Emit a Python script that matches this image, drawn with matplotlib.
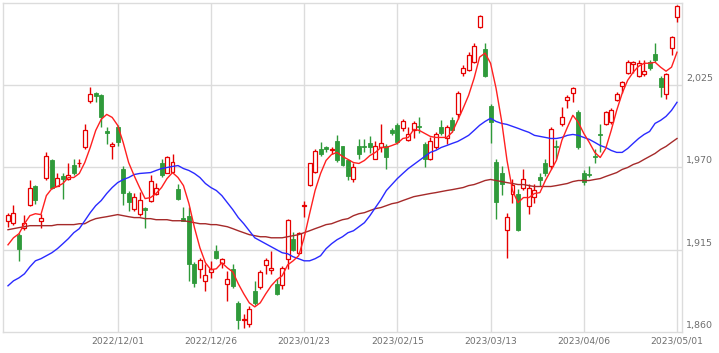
import numpy as np
import matplotlib
matplotlib.use("Agg")
import matplotlib.pyplot as plt

# Daily candles (oldest -> newest)
opens = [1934.4, 1933.1, 1925.1, 1929.8, 1945.2, 1957.3, 1934.4, 1963.3, 1974.7, 1957.9,
         1964.6, 1962.6, 1972.0, 1972.7, 1983.4, 2014.3, 2019.6, 2018.3, 1994.1, 1984.7,
         1996.8, 1969.3, 1953.2, 1942.5, 1939.1, 1943.2, 1947.9, 1952.6, 1973.3, 1966.6,
         1967.3, 1955.9, 1936.5, 1937.8, 1905.6, 1902.3, 1894.2, 1900.2, 1914.3, 1906.3,
         1892.2, 1902.3, 1879.5, 1868.0, 1865.4, 1887.5, 1890.2, 1904.9, 1901.6, 1892.2,
         1891.5, 1908.9, 1922.4, 1913.0, 1944.5, 1958.6, 1967.3, 1982.7, 1983.4, 1981.7,
         1987.4, 1984.1, 1974.7, 1962.6, 1984.1, 1984.7, 1986.1, 1976.0, 1983.4, 1984.1,
         1994.8, 1998.2, 1996.2, 1988.1, 1994.8, 1997.5, 1985.4, 1976.0, 1983.4, 1996.8,
         1989.4, 2001.5, 2005.5, 2033.0, 2035.0, 2040.4, 2063.9, 2049.1, 2010.9, 1974.0,
         1966.6, 1928.4, 1952.6, 1952.6, 1956.6, 1944.5, 1950.5, 1963.9, 1972.7, 1971.3,
         1984.7, 1998.8, 2014.9, 2019.6, 2006.9, 1966.6, 1965.6, 1977.4, 1992.5, 1998.8,
         2000.2, 2014.9, 2024.3, 2033.0, 2039.1, 2031.0, 2032.4, 2040.4, 2045.8, 2029.7,
         2019.0, 2049.8, 2070.6]
highs = [1939.8, 1945.2, 1926.4, 1938.5, 1961.9, 1958.6, 1939.1, 1980.1, 1976.0, 1966.0,
         1966.0, 1972.7, 1975.4, 1975.4, 1998.8, 2023.7, 2020.3, 2019.0, 1996.8, 1986.8,
         1998.2, 1970.7, 1954.6, 1953.2, 1953.9, 1943.8, 1965.3, 1959.9, 1976.0, 1978.0,
         1978.7, 1959.3, 1943.8, 1943.8, 1906.9, 1909.6, 1905.6, 1907.6, 1918.3, 1909.6,
         1900.9, 1905.6, 1880.8, 1872.1, 1877.4, 1894.2, 1901.6, 1909.6, 1914.3, 1895.5,
         1904.3, 1935.8, 1927.1, 1927.1, 1947.9, 1973.3, 1982.7, 1986.8, 1984.7, 1983.4,
         1991.5, 1984.7, 1976.0, 1973.3, 1988.8, 1988.8, 1990.8, 1987.4, 1998.8, 1985.4,
         1996.2, 1999.5, 2002.2, 1996.8, 2000.8, 2003.5, 1986.8, 1990.1, 1993.5, 2001.5,
         1998.2, 2003.5, 2021.0, 2038.4, 2047.1, 2053.2, 2071.9, 2053.2, 2012.2, 1975.4,
         1971.3, 1939.8, 1962.6, 1955.9, 1968.7, 1959.3, 1959.3, 1966.0, 1975.4, 1996.8,
         1988.1, 2010.2, 2018.3, 2023.7, 2008.2, 1968.0, 1970.7, 1982.1, 1998.8, 2007.6,
         2009.6, 2020.3, 2027.7, 2041.8, 2041.1, 2041.8, 2041.8, 2041.8, 2053.2, 2031.0,
         2033.0, 2057.9, 2078.6]
lows = [1930.4, 1931.8, 1907.6, 1928.4, 1944.5, 1945.8, 1929.8, 1961.9, 1955.9, 1957.3,
        1949.2, 1961.9, 1965.3, 1970.0, 1982.7, 2012.9, 2013.6, 1996.8, 1985.4, 1976.0,
        1984.1, 1945.2, 1941.2, 1941.2, 1937.8, 1929.8, 1947.2, 1951.9, 1963.9, 1966.0,
        1966.6, 1948.5, 1934.0, 1894.2, 1890.2, 1896.2, 1887.5, 1896.2, 1908.9, 1902.9,
        1880.8, 1889.5, 1862.0, 1862.7, 1863.4, 1878.1, 1888.8, 1898.9, 1898.9, 1884.8,
        1888.8, 1902.3, 1914.3, 1912.3, 1937.1, 1957.3, 1966.6, 1977.4, 1980.1, 1978.7,
        1974.0, 1970.7, 1961.9, 1960.6, 1976.0, 1980.1, 1979.4, 1975.4, 1980.1, 1968.7,
        1991.5, 1985.4, 1994.1, 1987.4, 1989.4, 1992.8, 1970.0, 1974.7, 1982.1, 1991.5,
        1985.4, 1993.5, 2002.2, 2031.0, 2034.4, 2039.7, 2063.2, 2030.4, 1986.1, 1935.8,
        1951.9, 1909.6, 1946.5, 1927.7, 1955.2, 1939.1, 1946.5, 1957.9, 1964.6, 1969.3,
        1975.4, 1997.5, 2009.6, 2013.6, 1982.1, 1958.6, 1963.9, 1973.3, 1980.1, 1998.2,
        1998.8, 2014.3, 2019.6, 2032.4, 2033.0, 2030.4, 2031.0, 2035.0, 2040.4, 2016.9,
        2015.6, 2045.1, 2067.2]
closes = [1938.5, 1939.8, 1915.7, 1933.1, 1956.6, 1948.5, 1936.5, 1977.4, 1956.6, 1963.3,
          1962.6, 1965.3, 1966.6, 1973.3, 1994.8, 2019.0, 2017.6, 2003.5, 1992.8, 1985.4,
          1987.1, 1953.2, 1947.2, 1950.5, 1948.5, 1941.8, 1961.3, 1956.6, 1965.3, 1976.7,
          1974.0, 1949.2, 1934.4, 1905.6, 1892.9, 1908.3, 1898.2, 1902.3, 1909.6, 1908.9,
          1895.5, 1890.9, 1868.0, 1868.7, 1875.4, 1879.5, 1900.2, 1908.3, 1902.9, 1885.5,
          1902.9, 1935.1, 1915.0, 1926.4, 1945.2, 1972.7, 1980.7, 1978.7, 1982.7, 1982.4,
          1974.7, 1972.0, 1964.6, 1970.0, 1978.7, 1983.4, 1983.4, 1984.1, 1986.1, 1976.7,
          1992.8, 1986.8, 2000.8, 1992.1, 1999.5, 1996.8, 1976.0, 1987.4, 1992.1, 1992.8,
          1996.8, 1994.8, 2019.6, 2036.4, 2045.1, 2051.1, 2071.3, 2031.0, 2000.2, 1947.2,
          1959.3, 1937.1, 1958.6, 1928.4, 1962.6, 1956.6, 1955.2, 1961.9, 1966.0, 1995.5,
          1983.4, 2003.5, 2016.9, 2023.0, 1983.4, 1960.6, 1964.9, 1976.7, 1991.8, 2006.9,
          2008.2, 2019.0, 2027.0, 2040.4, 2040.4, 2039.7, 2034.4, 2036.4, 2041.8, 2023.7,
          2032.4, 2057.2, 2078.0]

# Moving averages as drawn (short / medium / long)
ma_short = [1918.3, 1923.0, 1925.7, 1932.4, 1937.8, 1939.1, 1938.5, 1951.2, 1955.9, 1957.3,
            1959.3, 1963.3, 1963.3, 1966.0, 1973.3, 1983.4, 1994.8, 2002.2, 2005.5, 2003.5,
            1998.2, 1986.8, 1973.3, 1964.6, 1956.6, 1949.2, 1949.9, 1952.6, 1956.6, 1962.6,
            1966.6, 1963.3, 1957.9, 1945.8, 1929.8, 1916.3, 1906.3, 1901.6, 1902.3, 1906.3,
            1902.9, 1900.2, 1892.2, 1885.5, 1879.5, 1876.8, 1879.5, 1885.5, 1890.9, 1894.9,
            1897.6, 1904.9, 1907.6, 1911.0, 1923.0, 1939.1, 1954.6, 1966.0, 1974.7, 1978.7,
            1980.1, 1977.4, 1975.4, 1973.3, 1972.7, 1974.7, 1978.0, 1980.1, 1983.4, 1983.4,
            1984.7, 1986.1, 1989.4, 1990.1, 1995.5, 1994.8, 1992.8, 1990.8, 1990.1, 1990.1,
            1990.1, 1993.5, 2001.5, 2009.6, 2018.3, 2029.7, 2043.8, 2046.5, 2039.7, 2023.0,
            2001.5, 1974.7, 1954.6, 1946.5, 1949.9, 1949.9, 1952.6, 1953.2, 1961.3, 1968.0,
            1974.7, 1988.1, 1996.8, 2004.9, 2000.2, 1992.8, 1986.8, 1980.1, 1976.7, 1982.7,
            1994.8, 2008.2, 2019.6, 2028.3, 2033.7, 2037.7, 2039.7, 2039.7, 2040.4, 2037.1,
            2034.4, 2037.1, 2047.1]
ma_mid = [1890.9, 1894.2, 1896.2, 1898.9, 1903.6, 1907.6, 1909.0, 1911.0, 1913.0, 1915.7,
          1919.0, 1922.4, 1926.4, 1929.1, 1934.4, 1939.8, 1944.5, 1947.9, 1952.6, 1956.6,
          1959.9, 1961.9, 1963.3, 1965.3, 1966.0, 1966.3, 1966.6, 1968.0, 1969.3, 1970.0,
          1970.7, 1971.3, 1969.3, 1968.0, 1966.0, 1963.3, 1959.3, 1956.6, 1954.6, 1951.2,
          1946.5, 1941.8, 1936.5, 1932.4, 1927.7, 1923.0, 1921.0, 1919.0, 1917.0, 1915.0,
          1913.0, 1912.3, 1910.3, 1909.0, 1907.6, 1907.6, 1909.0, 1911.0, 1915.7, 1919.0,
          1921.7, 1923.7, 1926.4, 1927.7, 1930.4, 1933.1, 1937.8, 1943.2, 1948.5, 1954.6,
          1958.6, 1962.6, 1966.0, 1969.3, 1972.0, 1974.7, 1977.4, 1980.1, 1981.4, 1983.4,
          1984.7, 1986.1, 1987.4, 1989.4, 1991.5, 1994.8, 1998.2, 2000.8, 2002.9, 2000.8,
          1999.5, 1998.8, 1997.5, 1996.2, 1994.8, 1993.5, 1991.5, 1990.8, 1990.1, 1989.4,
          1989.4, 1990.1, 1991.5, 1992.1, 1991.5, 1990.1, 1988.8, 1986.8, 1984.7, 1983.4,
          1981.4, 1980.1, 1980.1, 1982.7, 1986.1, 1989.4, 1992.1, 1994.1, 1999.5, 2001.5,
          2004.2, 2008.2, 2013.6]
ma_long = [1928.4, 1929.1, 1929.8, 1930.4, 1931.1, 1931.1, 1931.1, 1931.1, 1931.1, 1931.8,
           1931.8, 1931.8, 1931.8, 1932.4, 1932.4, 1934.4, 1935.8, 1936.5, 1937.1, 1937.8,
           1938.5, 1937.8, 1937.1, 1936.5, 1936.5, 1935.8, 1935.8, 1935.1, 1935.1, 1935.1,
           1934.4, 1934.4, 1934.4, 1933.8, 1933.1, 1932.4, 1932.4, 1931.8, 1931.8, 1931.1,
           1930.4, 1929.1, 1927.7, 1926.4, 1925.1, 1924.4, 1923.7, 1923.7, 1923.0, 1923.0,
           1923.0, 1923.7, 1924.4, 1925.1, 1926.4, 1927.7, 1929.1, 1930.4, 1931.8, 1932.4,
           1933.8, 1935.1, 1935.8, 1937.8, 1939.1, 1939.8, 1941.2, 1942.5, 1943.2, 1944.5,
           1945.8, 1946.5, 1947.9, 1949.2, 1950.5, 1951.2, 1951.9, 1952.6, 1953.2, 1953.9,
           1954.6, 1955.2, 1955.9, 1956.6, 1957.9, 1958.6, 1959.9, 1961.3, 1962.0, 1961.3,
           1960.6, 1959.9, 1959.3, 1958.6, 1958.6, 1957.9, 1957.3, 1957.3, 1957.3, 1957.3,
           1957.9, 1958.6, 1959.3, 1960.6, 1961.3, 1961.3, 1961.3, 1962.0, 1962.6, 1964.0,
           1965.3, 1966.6, 1968.7, 1970.0, 1972.0, 1973.3, 1975.4, 1977.4, 1979.4, 1982.1,
           1984.1, 1986.8, 1989.4]

date_labels = ['2022/12/01', '2022/12/26', '2023/01/23', '2023/02/15',
               '2023/03/13', '2023/04/06', '2023/05/01']
date_index = [20, 37, 54, 71, 88, 105, 122]
price_ticks = [1860, 1915, 1970, 2025]

UP = '#e60000'
DOWN = '#2f9a3a'
GRID = '#dcdcdc'
TXT = '#6e6e6e'

o = np.array(opens)
h = np.array(highs)
l = np.array(lows)
c = np.array(closes)
x = np.arange(len(o))
up = c >= o

fig = plt.figure(figsize=(7.19, 3.53), dpi=100)
ax = fig.add_axes([3 / 719, 21 / 353, 679 / 719, 329 / 353])

ax.set_xlim(-0.91, len(o) - 1 + 0.91)
ax.set_ylim(1860, 2080)

# grid
for t in price_ticks[1:]:
    ax.axhline(t, color=GRID, lw=1, zorder=0)
for t in date_index:
    ax.axvline(t, color=GRID, lw=1, zorder=0)

# wicks
ax.vlines(x[up], l[up], h[up], color=UP, lw=1, zorder=2)
ax.vlines(x[~up], l[~up], h[~up], color=DOWN, lw=1, zorder=2)

# bodies
body = np.maximum(np.abs(c - o), 0.4)
bottom = np.minimum(o, c)
ax.bar(x[up], body[up], bottom=bottom[up], width=0.72, facecolor='white',
       edgecolor=UP, linewidth=0.9, zorder=3)
ax.bar(x[~up], body[~up], bottom=bottom[~up], width=0.72, facecolor=DOWN,
       edgecolor=DOWN, linewidth=0.6, zorder=3)

# moving averages
ax.plot(x, ma_long, color='#a52a2a', lw=1, zorder=4)
ax.plot(x, ma_mid, color='#2a2aff', lw=1, zorder=4)
ax.plot(x, ma_short, color='#ff2020', lw=1, zorder=4)

# axes styling
for s in ax.spines.values():
    s.set_color(GRID)
    s.set_linewidth(1)
ax.set_yticks([])
ax.set_xticks(date_index)
ax.set_xticklabels(date_labels, fontsize=6.6, color=TXT)
ax.tick_params(axis='x', length=0, pad=3.5)

# price labels on the right, sitting just above their grid line
for t in price_ticks:
    ax.text(1.006, t + 4.4, f'{t:,}', transform=ax.get_yaxis_transform(),
            ha='left', va='center', fontsize=6.8, color=TXT)

fig.savefig('out.png', dpi=100)
